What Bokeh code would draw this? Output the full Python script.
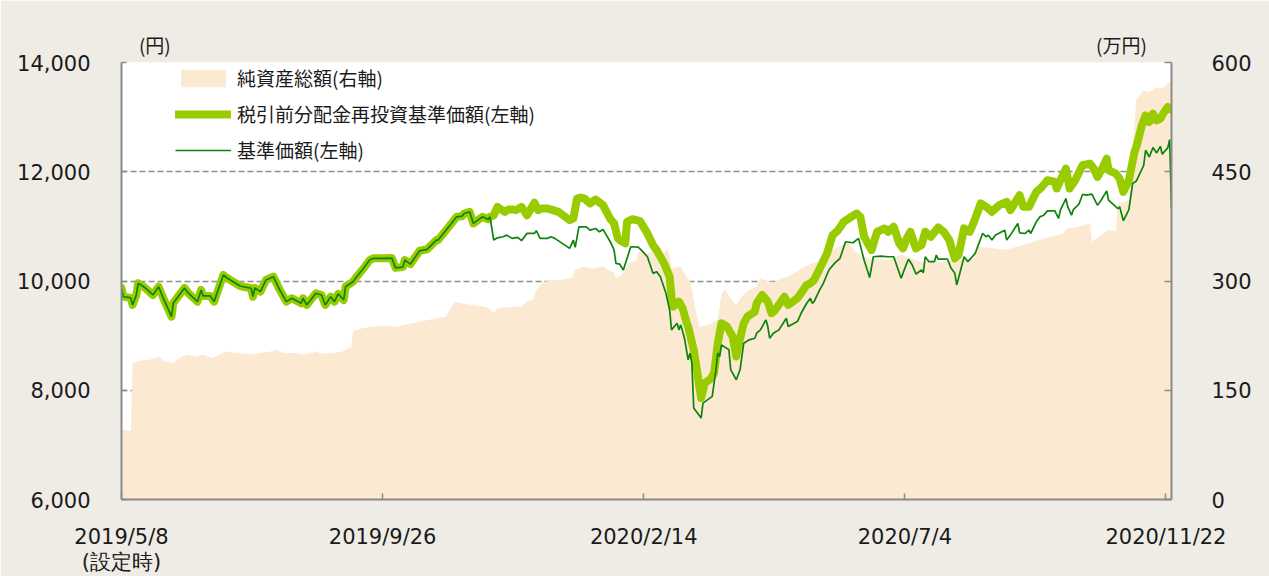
import pandas as pd
from bokeh.plotting import figure
from bokeh.models import (Range1d, LinearAxis, FixedTicker, NumeralTickFormatter,
                          Legend, LegendItem, ColumnDataSource)
from bokeh.embed import file_html
from bokeh.resources import INLINE

FONT_CJK = "Noto Sans CJK JP"
FONT_NUM = "DejaVu Sans"

# ---------------- data ----------------
# 基準価額 (円, left axis)
nav_dates = [
    "2019-05-08", "2019-05-09", "2019-05-13", "2019-05-14", "2019-05-16", "2019-05-17", "2019-05-20",
    "2019-05-25", "2019-05-28", "2019-05-31", "2019-06-04", "2019-06-05", "2019-06-11", "2019-06-13",
    "2019-06-18", "2019-06-20", "2019-06-21", "2019-06-25", "2019-06-27", "2019-07-02", "2019-07-04",
    "2019-07-11", "2019-07-17", "2019-07-18", "2019-07-19", "2019-07-22", "2019-07-25", "2019-07-29",
    "2019-08-01", "2019-08-05", "2019-08-08", "2019-08-13", "2019-08-14", "2019-08-16", "2019-08-21",
    "2019-08-24", "2019-08-26", "2019-08-29", "2019-08-31", "2019-09-02", "2019-09-05", "2019-09-06",
    "2019-09-10", "2019-09-12", "2019-09-15", "2019-09-19", "2019-09-21", "2019-09-27", "2019-10-01",
    "2019-10-03", "2019-10-07", "2019-10-08", "2019-10-11", "2019-10-16", "2019-10-20", "2019-10-25",
    "2019-10-26", "2019-10-31", "2019-11-05", "2019-11-08", "2019-11-09", "2019-11-12", "2019-11-14",
    "2019-11-19", "2019-11-22", "2019-11-23",
    "2019-11-25", "2019-11-27", "2019-11-30", "2019-12-02", "2019-12-05", "2019-12-08", "2019-12-10",
    "2019-12-13", "2019-12-17", "2019-12-18", "2019-12-20", "2019-12-24", "2019-12-26", "2019-12-28",
    "2020-01-05", "2020-01-07", "2020-01-08", "2020-01-10", "2020-01-14", "2020-01-16", "2020-01-19",
    "2020-01-21", "2020-01-23", "2020-01-27", "2020-01-29", "2020-01-30", "2020-02-01", "2020-02-03",
    "2020-02-07", "2020-02-11", "2020-02-13", "2020-02-16", "2020-02-19", "2020-02-21", "2020-02-23",
    "2020-02-26", "2020-02-28", "2020-02-29", "2020-03-03", "2020-03-04", "2020-03-05", "2020-03-07",
    "2020-03-09", "2020-03-10", "2020-03-11", "2020-03-12", "2020-03-16", "2020-03-17", "2020-03-22",
    "2020-03-24", "2020-03-25", "2020-03-26", "2020-03-27", "2020-03-31", "2020-04-01", "2020-04-04",
    "2020-04-06", "2020-04-08", "2020-04-11", "2020-04-14", "2020-04-15", "2020-04-17", "2020-04-20",
    "2020-04-21", "2020-04-22", "2020-04-24", "2020-04-27", "2020-05-01", "2020-05-02", "2020-05-07",
    "2020-05-09", "2020-05-12", "2020-05-14", "2020-05-15", "2020-05-16", "2020-05-19", "2020-05-21",
    "2020-05-24", "2020-05-27", "2020-05-30", "2020-06-02", "2020-06-06", "2020-06-09", "2020-06-12",
    "2020-06-15", "2020-06-17", "2020-06-21", "2020-06-25", "2020-06-28", "2020-07-02", "2020-07-05",
    "2020-07-06", "2020-07-08", "2020-07-10", "2020-07-13", "2020-07-14", "2020-07-15", "2020-07-17",
    "2020-07-20", "2020-07-21", "2020-07-22", "2020-07-27", "2020-07-29", "2020-07-31", "2020-08-01",
    "2020-08-02", "2020-08-05", "2020-08-07", "2020-08-11", "2020-08-15", "2020-08-17", "2020-08-18",
    "2020-08-20", "2020-08-22", "2020-08-27", "2020-08-28", "2020-08-30", "2020-09-03", "2020-09-04",
    "2020-09-07", "2020-09-09", "2020-09-10", "2020-09-13", "2020-09-15", "2020-09-17", "2020-09-19",
    "2020-09-23", "2020-09-25", "2020-09-26", "2020-09-29", "2020-09-30", "2020-10-02", "2020-10-03",
    "2020-10-06", "2020-10-08", "2020-10-10", "2020-10-13", "2020-10-16", "2020-10-18", "2020-10-21",
    "2020-10-22", "2020-10-25", "2020-10-27", "2020-10-28", "2020-10-30", "2020-11-02", "2020-11-04",
    "2020-11-06", "2020-11-10", "2020-11-11", "2020-11-13", "2020-11-15", "2020-11-17", "2020-11-19",
    "2020-11-20", "2020-11-23", "2020-11-24", "2020-11-25",
]
nav_values = [
    9870, 9713, 9690, 9562, 9744, 9958, 9896,
    9744, 9896, 9653, 9348, 9598, 9872, 9781,
    9622, 9836, 9726, 9726, 9622, 10110, 10055,
    9909, 9867, 9713, 9872, 9805, 10018, 10079,
    9867, 9622, 9684, 9592, 9684, 9562, 9775,
    9744, 9562, 9713, 9622, 9763, 9653, 9896,
    9987, 10079, 10201, 10383, 10415, 10415, 10420,
    10240, 10255, 10383, 10310, 10553, 10578, 10749,
    10749, 10962, 11175, 11187, 11236, 11266, 11054,
    11175, 11127, 11175,
    10749, 10790, 10810, 10840, 10780, 10800, 10738,
    10872, 10872, 10920, 10780, 10780, 10810, 10780,
    10597, 10749, 10616, 10992, 10992, 10932, 10962,
    10900, 10944, 10715, 10566, 10322, 10310, 10201,
    10627, 10620, 10555, 10444, 10140, 10170, 10079,
    9775, 9470, 9105, 9228, 9105, 9197, 8953,
    8557, 8679, 8496, 7674, 7491, 7765, 7887,
    8374, 8679, 8618, 8831, 8740, 8374, 8192,
    8374, 8862, 8923, 8953, 9044, 9105, 9288,
    9166, 8953, 9044, 9105, 9319, 9166, 9257,
    9409, 9592, 9684, 9592, 9622, 9836, 9958,
    10201, 10322, 10415, 10718, 10700, 10780, 10383,
    10064, 10444, 10456, 10444, 10444, 10049, 10322,
    10397, 10292, 10128, 10201, 10152, 10444, 10353,
    10353, 10475, 10402, 10402, 10232, 10140, 9927,
    10049, 10444, 10353, 10505, 10870, 10809, 10840,
    10749, 10840, 10931, 10749, 10840, 11053, 10882,
    10870, 10931, 10870, 11084, 11175, 11205, 11284,
    11284, 11145, 11297, 11510, 11358, 11205, 11308,
    11406, 11589, 11571, 11589, 11388, 11479, 11649,
    11479, 11388, 11327, 11358, 11102, 11308, 11783,
    11830, 12119, 12393, 12270, 12442, 12344, 12466,
    12320, 12442, 12588, 11333,
]

# 税引前分配金再投資基準価額 (円, left axis): identical to 基準価額 until the first
# distribution (2019-11-25); afterwards these values
reinvest_dates_after = [
    "2019-11-25", "2019-11-27", "2019-11-28", "2019-12-01", "2019-12-03", "2019-12-05", "2019-12-07",
    "2019-12-10", "2019-12-13", "2019-12-17", "2019-12-19", "2019-12-21", "2019-12-24", "2019-12-27",
    "2019-12-30", "2020-01-05", "2020-01-07", "2020-01-09", "2020-01-11", "2020-01-13", "2020-01-16",
    "2020-01-19", "2020-01-23", "2020-01-27", "2020-01-29", "2020-01-31", "2020-02-01", "2020-02-04",
    "2020-02-05", "2020-02-08", "2020-02-12", "2020-02-16", "2020-02-19", "2020-02-21", "2020-02-25",
    "2020-02-28", "2020-02-29", "2020-03-01", "2020-03-04", "2020-03-06", "2020-03-08", "2020-03-09",
    "2020-03-12", "2020-03-14", "2020-03-15", "2020-03-16", "2020-03-18", "2020-03-21", "2020-03-23",
    "2020-03-25", "2020-03-27", "2020-03-30", "2020-04-02", "2020-04-04", "2020-04-05", "2020-04-08",
    "2020-04-10", "2020-04-14", "2020-04-15", "2020-04-18", "2020-04-21", "2020-04-23", "2020-04-25",
    "2020-04-30", "2020-05-02", "2020-05-07", "2020-05-12", "2020-05-14", "2020-05-16", "2020-05-20",
    "2020-05-23", "2020-05-26", "2020-05-29", "2020-06-01", "2020-06-05", "2020-06-08", "2020-06-10",
    "2020-06-12", "2020-06-16", "2020-06-19", "2020-06-23", "2020-06-25", "2020-06-28", "2020-07-01",
    "2020-07-03", "2020-07-05", "2020-07-07", "2020-07-10", "2020-07-13", "2020-07-15", "2020-07-18",
    "2020-07-22", "2020-07-25", "2020-07-28", "2020-07-31", "2020-08-02", "2020-08-05", "2020-08-08",
    "2020-08-10", "2020-08-14", "2020-08-17", "2020-08-20", "2020-08-24", "2020-08-28", "2020-08-30",
    "2020-09-04", "2020-09-06", "2020-09-09", "2020-09-13", "2020-09-16", "2020-09-19", "2020-09-23",
    "2020-09-24", "2020-09-26", "2020-09-29", "2020-10-01", "2020-10-04", "2020-10-08", "2020-10-12",
    "2020-10-14", "2020-10-16", "2020-10-19", "2020-10-21", "2020-10-22", "2020-10-26", "2020-10-28",
    "2020-10-30", "2020-11-02", "2020-11-05", "2020-11-06", "2020-11-09", "2020-11-11", "2020-11-13",
    "2020-11-15", "2020-11-17", "2020-11-19", "2020-11-21", "2020-11-23", "2020-11-25",
]
reinvest_values_after = [
    11200, 11357, 11328, 11266, 11310, 11310, 11297,
    11357, 11205, 11434, 11297, 11328, 11328, 11297,
    11266, 11114, 11145, 11510, 11529, 11510, 11419,
    11492, 11388, 11132, 11054, 10780, 10749, 10689,
    11083, 11132, 11096, 10871, 10658, 10566, 10323,
    10079, 9713, 9531, 9622, 9501, 9257, 9165,
    8740, 8314, 8069, 7857, 8131, 8205, 8314,
    8862, 9227, 9165, 8983, 8618, 8800, 9227,
    9348, 9440, 9593, 9744, 9622, 9410, 9470,
    9713, 9562, 9684, 9927, 9958, 10018, 10292,
    10506, 10840, 10931, 11083, 11174, 11236, 11174,
    10809, 10566, 10900, 10962, 10900, 10992, 10689,
    10597, 10780, 10900, 10597, 10658, 10900, 10809,
    10981, 10900, 10749, 10415, 10475, 10963, 10900,
    11054, 11419, 11357, 11266, 11388, 11449, 11297,
    11571, 11357, 11357, 11631, 11722, 11845, 11814,
    11693, 11845, 12058, 11693, 11845, 12119, 12150,
    12058, 11905, 12088, 12241, 12027, 11967, 11876,
    11631, 11845, 12362, 12453, 12849, 13032, 12910,
    13063, 12941, 12972, 13092, 13184, 13136,
]

# 純資産総額 (万円, right axis)
asset_dates = [
    "2019-05-08", "2019-05-13", "2019-05-14", "2019-05-17", "2019-05-23", "2019-05-28", "2019-05-31",
    "2019-06-05", "2019-06-07", "2019-06-12", "2019-06-17", "2019-06-21", "2019-06-26", "2019-07-03",
    "2019-07-07", "2019-07-14", "2019-07-18", "2019-07-21", "2019-07-27", "2019-07-31", "2019-08-03",
    "2019-08-10", "2019-08-14", "2019-08-21", "2019-08-24", "2019-08-30", "2019-09-04", "2019-09-08",
    "2019-09-09", "2019-09-10", "2019-09-15", "2019-09-19", "2019-09-28", "2019-10-03", "2019-10-08",
    "2019-10-16", "2019-10-25", "2019-10-30", "2019-11-04", "2019-11-08", "2019-11-13", "2019-11-19",
    "2019-11-22", "2019-11-25", "2019-11-27", "2019-12-03", "2019-12-10", "2019-12-13", "2019-12-16",
    "2019-12-18", "2019-12-21", "2019-12-25", "2019-12-30", "2020-01-06", "2020-01-08", "2020-01-12",
    "2020-01-17", "2020-01-23", "2020-01-26", "2020-01-29", "2020-01-30", "2020-02-02", "2020-02-06",
    "2020-02-10", "2020-02-12", "2020-02-15", "2020-02-19", "2020-02-23", "2020-02-27", "2020-02-29",
    "2020-03-05", "2020-03-08", "2020-03-10", "2020-03-12", "2020-03-15", "2020-03-20", "2020-03-25",
    "2020-03-27", "2020-03-29", "2020-04-01", "2020-04-04", "2020-04-07", "2020-04-11", "2020-04-15",
    "2020-04-17", "2020-04-21", "2020-04-25", "2020-04-29", "2020-05-02", "2020-05-08", "2020-05-13",
    "2020-05-20", "2020-05-26", "2020-05-31", "2020-06-04", "2020-06-07", "2020-06-14", "2020-06-25",
    "2020-07-02", "2020-07-13", "2020-07-23", "2020-08-06", "2020-08-11", "2020-08-13", "2020-08-28",
    "2020-09-09", "2020-09-14", "2020-09-27", "2020-09-30", "2020-10-05", "2020-10-12", "2020-10-13",
    "2020-10-19", "2020-10-22", "2020-10-26", "2020-10-27", "2020-11-02", "2020-11-06", "2020-11-10",
    "2020-11-13", "2020-11-17", "2020-11-20", "2020-11-23", "2020-11-25",
]
asset_values = [
    96, 94, 187, 190, 192, 196, 190,
    187, 192, 199, 196, 199, 194, 203,
    202, 200, 199, 201, 203, 206, 201,
    201, 199, 203, 200, 201, 203, 208,
    208, 231, 235, 237, 239, 237, 240,
    244, 249, 251, 272, 269, 267, 265,
    263, 256, 263, 264, 265, 272, 274,
    288, 297, 301, 301, 304, 315, 320,
    317, 320, 315, 311, 304, 308, 324,
    329, 343, 336, 343, 333, 345, 317,
    320, 306, 301, 274, 237, 240, 247,
    283, 288, 276, 267, 279, 288, 292,
    304, 299, 299, 304, 306, 315, 322,
    329, 343, 349, 354, 340, 331, 329,
    336, 326, 326, 330, 333, 347, 343,
    352, 356, 365, 372, 374, 379, 354,
    365, 370, 368, 406, 411, 548, 562,
    559, 566, 564, 571, 575,
]

x_tick_dates = ["2019-05-08", "2019-09-26", "2020-02-14", "2020-07-04", "2020-11-22"]
x_tick_labels = ["2019/5/8\n(設定時)", "2019/9/26", "2020/2/14", "2020/7/4", "2020/11/22"]
left_ticks = [6000, 8000, 10000, 12000, 14000]
right_ticks = [0, 150, 300, 450, 600]
legend_labels = ["純資産総額(右軸)", "税引前分配金再投資基準価額(左軸)", "基準価額(左軸)"]
unit_labels = ["(円)", "(万円)"]
unit_label_dates = ["2019-05-26", "2020-10-29"]   # where the unit captions sit along the top

# ---------------- build sources ----------------
nav_df = pd.DataFrame({"date": pd.to_datetime(nav_dates), "value": nav_values})
pre = nav_df[nav_df["date"] < pd.Timestamp("2019-11-25")]
reinvest_df = pd.concat([
    pre,
    pd.DataFrame({"date": pd.to_datetime(reinvest_dates_after), "value": reinvest_values_after}),
], ignore_index=True)
asset_df = pd.DataFrame({"date": pd.to_datetime(asset_dates), "value": asset_values})

nav_src = ColumnDataSource(nav_df)
re_src = ColumnDataSource(reinvest_df)
as_src = ColumnDataSource(asset_df)

x_start = pd.Timestamp("2019-05-08")
x_end = pd.Timestamp("2020-11-25")


def ms(ts):
    return pd.Timestamp(ts).value / 1e6


BG = "#EFECE6"
GRID = "#8E8E8E"
AXIS = "#8A8A8A"
TXT = "#1a1a1a"

p = figure(width=1269, height=576, x_axis_type="datetime",
           output_backend="svg", toolbar_location=None,
           x_range=Range1d(x_start, x_end), y_range=Range1d(6000, 14000),
           min_border_left=121, min_border_right=98, min_border_top=62, min_border_bottom=76,
           background_fill_color="white", border_fill_color=BG, outline_line_color=None)
p.extra_y_ranges = {"assets": Range1d(0, 600)}

# grid
p.xgrid.visible = False
p.ygrid.ticker = FixedTicker(ticks=left_ticks)
p.ygrid.grid_line_color = GRID
p.ygrid.grid_line_dash = "6 3"
p.ygrid.grid_line_width = 1.5

# glyphs
area = p.varea(x="date", y1=0, y2="value", source=as_src, y_range_name="assets",
               fill_color="#FCE9D2")
thick = p.line(x="date", y="value", source=re_src, line_color="#99CC00", line_width=8,
               line_join="round", line_cap="round")
thin = p.line(x="date", y="value", source=nav_src, line_color="#0C840C", line_width=1.7)

# axes
xa = p.xaxis[0]
xa.ticker = FixedTicker(ticks=[ms(d) for d in x_tick_dates])
xa.major_label_overrides = {ms(d): lab for d, lab in zip(x_tick_dates, x_tick_labels)}
xa.minor_tick_line_color = None
xa.major_tick_in = 6
xa.major_tick_out = 0
xa.major_label_standoff = 25
xa.axis_line_color = AXIS
xa.axis_line_width = 2
xa.major_tick_line_color = AXIS
xa.major_tick_line_width = 1.5
xa.major_label_text_font_size = "21px"
xa.major_label_text_line_height = 1.05

ya = p.yaxis[0]
ya.ticker = FixedTicker(ticks=left_ticks)
ya.formatter = NumeralTickFormatter(format="0,0")
ya.minor_tick_line_color = None
ya.major_tick_in = 5
ya.major_tick_out = 0
ya.major_label_standoff = 31
ya.axis_line_color = AXIS
ya.axis_line_width = 2
ya.major_tick_line_color = AXIS
ya.major_tick_line_width = 1.5
ya.major_label_text_font_size = "21px"

ra = LinearAxis(y_range_name="assets", ticker=FixedTicker(ticks=right_ticks))
ra.minor_tick_line_color = None
ra.major_tick_in = 7
ra.major_tick_out = 0
ra.major_label_standoff = 40
ra.axis_line_color = AXIS
ra.axis_line_width = 2
ra.major_tick_line_color = AXIS
ra.major_tick_line_width = 1.5
ra.major_label_text_font_size = "21px"
p.add_layout(ra, "right")

for ax in (xa, ya, ra):
    ax.major_label_text_font = FONT_NUM
    ax.major_label_text_color = TXT

# unit captions "(円)" / "(万円)" as tick labels of an invisible top axis
ta = LinearAxis(ticker=FixedTicker(ticks=[ms(d) for d in unit_label_dates]))
ta.major_label_overrides = {ms(d): lab for d, lab in zip(unit_label_dates, unit_labels)}
ta.axis_line_color = None
ta.major_tick_line_color = None
ta.minor_tick_line_color = None
ta.major_tick_in = 0
ta.major_tick_out = 0
ta.major_label_standoff = 5
ta.major_label_text_font = FONT_CJK
ta.major_label_text_font_size = "19px"
ta.major_label_text_color = TXT
p.add_layout(ta, "above")

legend = Legend(items=[
    LegendItem(label=legend_labels[0], renderers=[area]),
    LegendItem(label=legend_labels[1], renderers=[thick]),
    LegendItem(label=legend_labels[2], renderers=[thin]),
], location=(54, 336))
legend.background_fill_alpha = 0
legend.border_line_color = None
legend.padding = 0
legend.margin = 0
legend.spacing = 9
legend.glyph_width = 56
legend.glyph_height = 22
legend.label_height = 22
legend.label_standoff = 6
legend.label_text_font = FONT_CJK
legend.label_text_font_size = "19px"
legend.label_text_color = TXT
p.add_layout(legend)

open("out.html", "w").write(file_html(p, INLINE))
